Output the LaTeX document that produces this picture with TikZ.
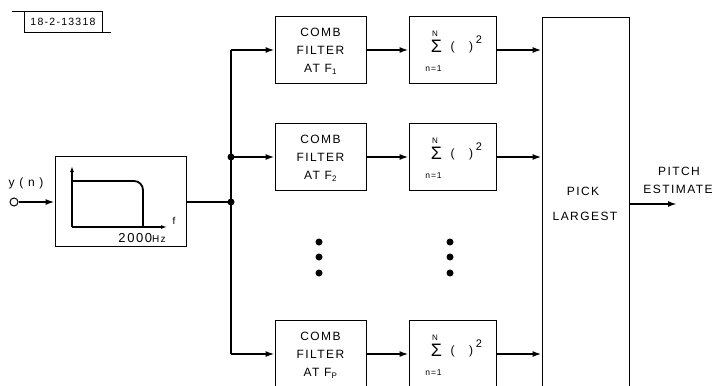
\documentclass[tikz,border=0pt]{standalone}
\usepackage{fontspec}
\setmainfont{Liberation Sans}[LetterSpace=12]
\usetikzlibrary{arrows.meta}
\begin{document}
\begin{tikzpicture}[x=1pt,y=-1pt,
  box/.style={draw,line width=0.8pt,inner sep=0pt},
  conn/.style={line width=1.8pt},
  arr/.style={conn,-{Latex[length=9pt,width=6pt]}},
  smallarr/.style={line width=1.2pt,-{Latex[length=6pt,width=4pt]}},
  lbl/.style={inner sep=0pt,font=\fontsize{12}{14}\selectfont},
  combtxt/.style={align=center,inner sep=0pt,font=\fontsize{12}{18}\selectfont},
  dotmark/.style={circle,fill,inner sep=0pt,minimum size=7pt}]
\useasboundingbox (0,0) rectangle (719,385);
\clip (0,0) rectangle (719,385);
% tag box
\node[box,minimum width=78pt,minimum height=21pt,font=\fontsize{10.5}{12}\selectfont] (tag) at (63,21.5) {18-2-13318};
\draw[line width=0.8pt] ([yshift=-1pt]tag.north west) -- ++(-12,0);
\draw[line width=0.8pt] (tag.south east) -- ++(9,0);
% input
\node[circle,draw,line width=1pt,minimum size=8pt,inner sep=0pt] (in) at (14,202) {};
\node[lbl] (yn) at (26,183) {y ( n )};
% low-pass filter
\node[box,minimum width=131pt,minimum height=90pt] (lp) at (120.5,201) {};
\coordinate (ax0) at (72,227);
\coordinate (axy) at (72,166);
\coordinate (axx) at (167,227);
\draw[smallarr] (ax0) -- (axy);
\draw[smallarr] (ax0) -- (axx);
\draw[line width=1.8pt,rounded corners=9pt] (72,181) -- (143,181) -- (143,227);
\node[inner sep=0pt,font=\fontsize{10}{11}\selectfont] (fl) at (174,221) {f};
\node[inner sep=0pt,font=\fontsize{13}{14}\selectfont] (hz) at (142,238) {2000\fontsize{10}{11}\selectfont Hz};
\draw[arr] (in) -- (lp.west |- in);
% bus
\coordinate (j2) at (231,202);
\coordinate (j1) at (231,157);
\coordinate (jt) at (231,50);
\coordinate (jb) at (231,354);
\draw[conn] (lp.east |- j2) -- (j2);
\draw[conn] (jt) -- (jb);
\node[dotmark] (d2) at (j2) {};
\node[dotmark] (d1) at (j1) {};
% rows
\foreach \r/\y/\s in {1/50/1,2/157/2,3/354/P}{
  \node[box,minimum width=91pt,minimum height=67pt] (comb\r) at (320.5,\y) {};
  \node[combtxt] (ct\r) at (320.5,\y+1) {COMB\\FILTER\\AT F\textsubscript{\s}};
  \node[box,minimum width=87pt,minimum height=67pt] (sum\r) at (452.5,\y) {};
  \node[inner sep=0pt,font=\fontsize{8}{9}\selectfont] (N\r) at ([shift={(-17.5,-16)}]sum\r.center) {N};
  \node[inner sep=0pt,font=\fontsize{18}{19}\selectfont] (S\r) at ([shift={(-16,-3.5)}]sum\r.center) {Σ};
  \node[inner sep=0pt,font=\fontsize{12}{13}\selectfont] (pl\r) at ([shift={(0,-3)}]sum\r.center) {(};
  \node[inner sep=0pt,font=\fontsize{12}{13}\selectfont] (pr\r) at ([shift={(18.5,-3)}]sum\r.center) {)};
  \node[inner sep=0pt,font=\fontsize{11}{12}\selectfont] (sq\r) at ([shift={(26.5,-10.5)}]sum\r.center) {2};
  \node[inner sep=0pt,font=\fontsize{8.5}{9}\selectfont] (n\r) at ([shift={(-19,18.5)}]sum\r.center) {n=1};
  \draw[arr] (comb\r) -- (sum\r);
}
\draw[arr] (jt) -- (comb1.west);
\draw[arr] (j1) -- (comb2.west);
\draw[arr] (jb) -- (comb3.west);
% pick largest
\node[box,minimum width=87pt,minimum height=400pt,anchor=north] (pick) at (585.5,17) {};
\node[lbl] (pk) at (583,191) {PICK};
\node[lbl] (lg) at (585,216) {LARGEST};
\foreach \r in {1,2,3}{
  \draw[arr] (sum\r) -- (sum\r.east -| pick.west);
}
\coordinate (outend) at (677,204);
\draw[arr] (pick.east |- outend) -- (outend);
\node[lbl] (pt) at (679,171) {PITCH};
\node[lbl] (es) at (678,189) {ESTIMATE};
% ellipsis dots
\foreach \i/\yy in {1/242,2/257,3/273}{
  \node[dotmark] (da\i) at (319,\yy) {};
  \node[dotmark] (db\i) at (450,\yy) {};
}
\end{tikzpicture}
\end{document}
